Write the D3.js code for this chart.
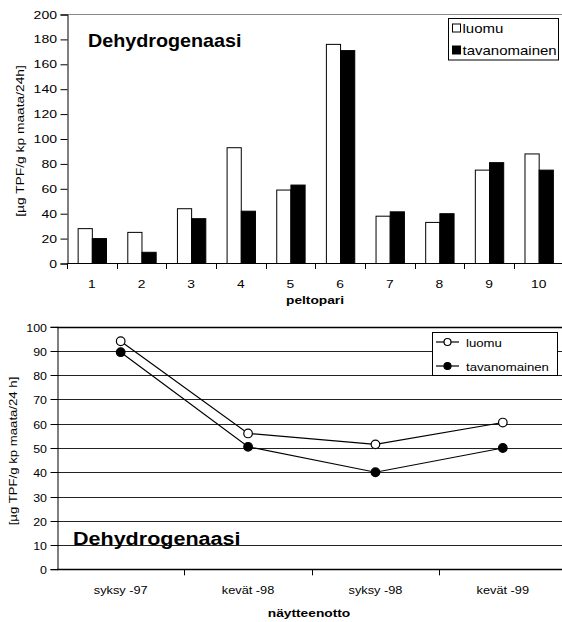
<!DOCTYPE html>
<html>
<head>
<meta charset="utf-8">
<script src="https://cdn.jsdelivr.net/npm/d3@7"></script>
<style>
  html, body { margin: 0; padding: 0; background: #fff; }
  svg { display: block; }
  text { font-family: "Liberation Sans", Arial, sans-serif; fill: #000; }
</style>
</head>
<body>
<svg id="chart" width="562" height="622"></svg>
<script>
// Dehydrogenase activity per field pair (bar chart)
const pairs = ["1", "2", "3", "4", "5", "6", "7", "8", "9", "10"];
const luomuPairs = [28, 25, 44, 93, 59, 176, 38, 33, 75, 88];
const tavanoPairs = [20, 9, 36, 42, 63, 171, 41.5, 40, 81, 75];
const barTicks = [0, 20, 40, 60, 80, 100, 120, 140, 160, 180, 200];

// Dehydrogenase activity by sampling time (line chart)
const samplings = ["syksy -97", "kevät -98", "syksy -98", "kevät -99"];
const luomuTime = [94, 56, 51.5, 60.5];
const tavanoTime = [89.5, 50.5, 40, 50];
const lineTicks = [0, 10, 20, 30, 40, 50, 60, 70, 80, 90, 100];

const seriesNames = ["luomu", "tavanomainen"];

const svg = d3.select("#chart");

// Text drawn in a slightly wide face (horizontally stretched Arial look)
function label(g, x, y, str, o = {}) {
  const size = o.size || 11.5, sx = o.sx || 1.2, rot = o.rotate || 0;
  return g.append("text")
    .attr("transform", `translate(${x},${y}) rotate(${rot}) scale(${sx},1)`)
    .attr("text-anchor", o.anchor || "start")
    .style("font-size", size + "px")
    .style("font-weight", o.bold ? "bold" : "normal")
    .text(str);
}

// ---------- Top: grouped bars ----------
{
  const left = 67, right = 563.5, top = 14, bottom = 263;
  const x = d3.scaleBand().domain(pairs).range([left, right]);
  const y = d3.scaleLinear().domain([0, 200]).range([bottom, top]);
  const g = svg.append("g");

  // plot area top border
  g.append("line").attr("x1", left).attr("x2", 562).attr("y1", top + 0.5).attr("y2", top + 0.5)
    .attr("stroke", "#888").attr("stroke-width", 1);

  const bw = x.bandwidth() / 3.5;
  const inner = d3.scaleBand().domain(seriesNames).range([0, 2 * bw]);
  const data = pairs.map((p, i) => ({ p, vals: [luomuPairs[i], tavanoPairs[i]] }));

  const grp = g.selectAll("g.pair").data(data).join("g")
    .attr("transform", d => `translate(${x(d.p) + (x.bandwidth() - 2 * bw) / 2},0)`);
  grp.selectAll("rect").data(d => d.vals.map((v, k) => ({ v, s: seriesNames[k] }))).join("rect")
    .attr("x", d => inner(d.s) + 0.5)
    .attr("y", d => y(d.v) + 0.5)
    .attr("width", bw)
    .attr("height", d => bottom - y(d.v))
    .attr("fill", d => d.s === "luomu" ? "#fff" : "#000")
    .attr("stroke", "#000").attr("stroke-width", 1);

  // y axis
  const ya = d3.axisLeft(y).tickValues(barTicks).tickSize(7).tickFormat("");
  const yg = g.append("g").attr("transform", `translate(${left + 0.5},0.5)`).call(ya);
  yg.select(".domain").attr("stroke", "#000");
  barTicks.forEach(t => label(g, 57, y(t) + 4.5, t, { anchor: "end", size: 11.5, sx: 1.22 }));

  // x axis with ticks between categories
  g.append("line").attr("x1", left).attr("x2", 562).attr("y1", bottom + 0.5).attr("y2", bottom + 0.5)
    .attr("stroke", "#000");
  pairs.forEach(p => {
    const xx = Math.round(x(p)) + 0.5;
    g.append("line").attr("x1", xx).attr("x2", xx).attr("y1", bottom).attr("y2", bottom + 6).attr("stroke", "#000");
    label(g, x(p) + x.bandwidth() / 2, 288, p, { anchor: "middle", size: 11.5, sx: 1.2 });
  });

  label(g, 315, 304, "peltopari", { anchor: "middle", size: 11, sx: 1.25, bold: true });
  label(g, 24, 141, "[µg TPF/g kp maata/24h]", { anchor: "middle", size: 11.5, sx: 1.2, rotate: -90 });
  label(g, 88, 47, "Dehydrogenaasi", { size: 18.8, sx: 1.05, bold: true });

  // legend
  const lg = g.append("g");
  lg.append("rect").attr("x", 448.5).attr("y", 18.5).attr("width", 110).attr("height", 41.5)
    .attr("fill", "#fff").attr("stroke", "#000");
  seriesNames.forEach((s, i) => {
    const cy = 28.5 + i * 22;
    lg.append("rect").attr("x", 452.5).attr("y", cy - 4.5).attr("width", 8).attr("height", 8)
      .attr("fill", s === "luomu" ? "#fff" : "#000").attr("stroke", "#000");
    label(lg, 462.5, cy + 4.5, s, { size: 12.5, sx: 1.2 });
  });
}

// ---------- Bottom: lines over time ----------
{
  const left = 57, right = 566.5, top = 326.7, bottom = 569.3;
  const x = d3.scaleBand().domain(samplings).range([left, right]);
  const y = d3.scaleLinear().domain([0, 100]).range([bottom, top]);
  const g = svg.append("g");

  // gridlines
  lineTicks.forEach(t => {
    if (t === 0) return;
    const yy = Math.round(y(t)) + 0.5;
    g.append("line").attr("x1", left).attr("x2", 562).attr("y1", yy).attr("y2", yy)
      .attr("stroke", t === 100 ? "#000" : "#222").attr("stroke-width", t === 100 ? 1.4 : 1);
  });

  // y axis
  const ya = d3.axisLeft(y).tickValues(lineTicks).tickSize(7).tickFormat("");
  const yg = g.append("g").attr("transform", `translate(${left + 0.5},0)`).call(ya);
  yg.selectAll(".tick").attr("transform", d => `translate(0,${Math.round(y(d)) + 0.5})`);
  yg.select(".domain").attr("stroke", "#000");
  lineTicks.forEach(t => label(g, 47, Math.round(y(t)) + 4.5, t, { anchor: "end", size: 11, sx: 1.13 }));

  // x axis
  g.append("line").attr("x1", left).attr("x2", 562).attr("y1", Math.round(bottom) + 0.5).attr("y2", Math.round(bottom) + 0.5)
    .attr("stroke", "#000").attr("stroke-width", 1.3);
  samplings.forEach((s, i) => {
    if (i > 0) {
      const xx = Math.round(x(s)) + 0.5;
      g.append("line").attr("x1", xx).attr("x2", xx).attr("y1", bottom).attr("y2", bottom + 6).attr("stroke", "#000");
    }
    label(g, x(s) + x.bandwidth() / 2, 594, s, { anchor: "middle", size: 11, sx: 1.16 });
  });

  label(g, 309, 617, "näytteenotto", { anchor: "middle", size: 11, sx: 1.25, bold: true });
  label(g, 17, 451, "[µg TPF/g kp maata/24 h]", { anchor: "middle", size: 11, sx: 1.2, rotate: -90 });
  label(g, 73, 545, "Dehydrogenaasi", { size: 17.5, sx: 1.23, bold: true });

  const cx = d => x(d) + x.bandwidth() / 2;
  const line = d3.line().x(d => cx(d.s)).y(d => y(d.v));
  [[luomuTime, "#fff"], [tavanoTime, "#000"]].forEach(([vals, fill]) => {
    const pts = samplings.map((s, i) => ({ s, v: vals[i] }));
    g.append("path").datum(pts).attr("d", line).attr("fill", "none").attr("stroke", "#000").attr("stroke-width", 1.2);
    g.selectAll(null).data(pts).join("circle")
      .attr("cx", d => cx(d.s)).attr("cy", d => y(d.v)).attr("r", 4.3)
      .attr("fill", fill).attr("stroke", "#000").attr("stroke-width", 1.2);
  });

  // legend
  const lg = g.append("g");
  lg.append("rect").attr("x", 432.5).attr("y", 332.5).attr("width", 125).attr("height", 43)
    .attr("fill", "#fff").attr("stroke", "#000");
  seriesNames.forEach((s, i) => {
    const cy = 342 + i * 24;
    lg.append("line").attr("x1", 436).attr("x2", 459).attr("y1", cy).attr("y2", cy).attr("stroke", "#000").attr("stroke-width", 1.2);
    lg.append("circle").attr("cx", 447.5).attr("cy", cy).attr("r", 3.5)
      .attr("fill", s === "luomu" ? "#fff" : "#000").attr("stroke", "#000").attr("stroke-width", 1.2);
    label(lg, 466, cy + 4.5, s, { size: 11.5, sx: 1.15 });
  });
}
</script>
</body>
</html>
